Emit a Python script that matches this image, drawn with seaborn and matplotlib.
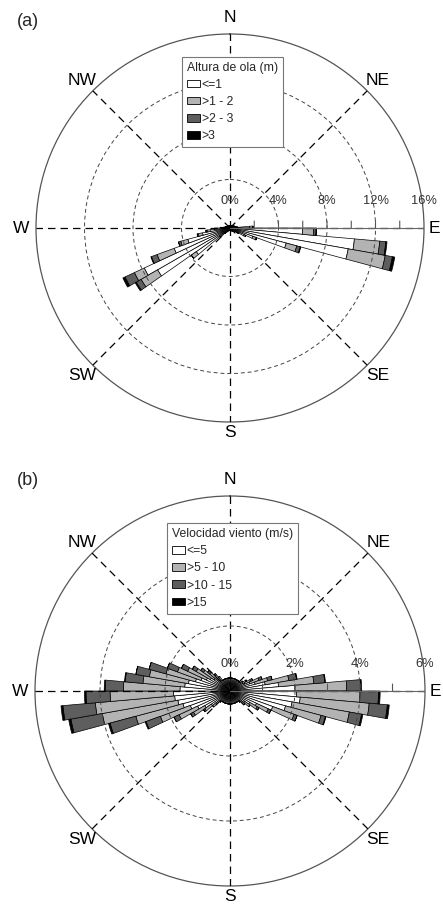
import numpy as np
import matplotlib
matplotlib.use("Agg")
import matplotlib.pyplot as plt
import seaborn as sns
from matplotlib.patches import Patch

sns.set_theme(style="white")
plt.rcParams["font.family"] = ["Liberation Sans", "DejaVu Sans"]

# ---------------- data ----------------
# direction bins (start of each 5 degree sector, clockwise from North)
direction_bins = list(range(0, 360, 5))
compass_angles = [0, 45, 90, 135, 180, 225, 270, 315]
compass_labels = ["N", "NE", "E", "SE", "S", "SW", "W", "NW"]

# (a) wave height rose, % of occurrence per 5 deg sector
wave_labels = ["<=1", ">1 - 2", ">2 - 3", ">3"]
wave_le1 = [.2, .2, .2, .2, .2, .2, .2, .2, .25, .25, .3, .3,
            .35, .4, .45, .5, .6, 1.6, 6.0, 10.3, 9.9, 4.8, 2.0, 1.3,
            .7, .5, .4, .35, .3, .3, .25, .25, .2, .2, .2, .2,
            .2, .2, .2, .2, .25, .25, .3, .4, .6, 1.0, 3.4, 6.9,
            7.8, 4.9, 3.6, 2.3, 1.6, 1.1, .7, .5, .4, .35, .3, .3,
            .25, .25, .2, .2, .2, .2, .2, .2, .2, .2, .2, .2]
wave_1_2 = [0, 0, 0, 0, 0, 0, 0, 0, 0, 0, 0, 0,
            0, 0, 0, 0, 0, .3, .9, 2.1, 3.1, .9, .3, .15,
            .1, 0, 0, 0, 0, 0, 0, 0, 0, 0, 0, 0,
            0, 0, 0, 0, 0, 0, 0, 0, 0, .1, .5, 1.57,
            .9, 1.5, .6, .35, .3, .2, .1, 0, 0, 0, 0, 0,
            0, 0, 0, 0, 0, 0, 0, 0, 0, 0, 0, 0]
wave_2_3 = [0, 0, 0, 0, 0, 0, 0, 0, 0, 0, 0, 0,
            0, 0, 0, 0, 0, 0, .2, .5, .6, .3, .05, 0,
            0, 0, 0, 0, 0, 0, 0, 0, 0, 0, 0, 0,
            0, 0, 0, 0, 0, 0, 0, 0, 0, 0, 0, .46,
            .85, .5, .2, .1, .1, 0, 0, 0, 0, 0, 0, 0,
            0, 0, 0, 0, 0, 0, 0, 0, 0, 0, 0, 0]
wave_gt3 = [0, 0, 0, 0, 0, 0, 0, 0, 0, 0, 0, 0,
            0, 0, 0, 0, 0, 0, .05, .1, .2, .05, 0, 0,
            0, 0, 0, 0, 0, 0, 0, 0, 0, 0, 0, 0,
            0, 0, 0, 0, 0, 0, 0, 0, 0, 0, 0, .1,
            .2, .05, 0, 0, 0, 0, 0, 0, 0, 0, 0, 0,
            0, 0, 0, 0, 0, 0, 0, 0, 0, 0, 0, 0]

# (b) wind speed rose
wind_labels = ["<=5", ">5 - 10", ">10 - 15", ">15"]
wind_le5 = [.4, .4, .4, .4, .4, .4, .4, .4, .4, .4, .4, .45,
            .5, .65, .8, 1.1, 1.5, 2.0, 2.05, 2.17, 1.94, 1.77, 1.4, .9,
            .7, .55, .5, .45, .4, .4, .4, .4, .4, .4, .4, .4,
            .4, .4, .4, .4, .4, .4, .4, .4, .45, .55, .7, .9,
            1.1, 1.3, 1.5, 1.63, 1.71, 1.74, 1.54, 1.4, 1.3, 1.1, .95, .8,
            .7, .6, .5, .45, .4, .4, .4, .4, .4, .4, .4, .4]
wind_5_10 = [0, 0, 0, 0, 0, 0, 0, 0, 0, 0, .08, .12,
             .2, .3, .4, .74, 1.09, 1.59, 1.95, 2.13, 1.79, 1.13, .7, .4,
             .27, .2, .1, 0, 0, 0, 0, 0, 0, 0, 0, 0,
             0, 0, 0, 0, 0, 0, 0, 0, 0, .15, .25, .4,
             .63, .98, 1.5, 2.36, 2.45, 1.95, 1.74, 1.29, 1.22, .94, .77, .64,
             .5, .4, .32, .2, .15, 0, 0, 0, 0, 0, 0, 0]
wind_10_15 = [0, 0, 0, 0, 0, 0, 0, 0, 0, 0, 0, .03,
              .07, .1, .14, .24, .34, .43, .57, .56, .38, .14, .1, .09,
              .06, 0, 0, 0, 0, 0, 0, 0, 0, 0, 0, 0,
              0, 0, 0, 0, 0, 0, 0, 0, 0, 0, .05, .1,
              .17, .47, .82, .98, 1.0, .74, .56, .55, .42, .54, .33, .21,
              .14, .1, .08, .05, 0, 0, 0, 0, 0, 0, 0, 0]
wind_gt15 = [0, 0, 0, 0, 0, 0, 0, 0, 0, 0, 0, 0,
             0, 0, 0, .02, .02, .03, .05, .06, .04, .02, 0, 0,
             0, 0, 0, 0, 0, 0, 0, 0, 0, 0, 0, 0,
             0, 0, 0, 0, 0, 0, 0, 0, 0, 0, 0, 0,
             0, .03, .05, .07, .06, .05, .03, .02, 0, 0, 0, 0,
             0, 0, 0, 0, 0, 0, 0, 0, 0, 0, 0, 0]

wave_rmax, wave_grid, wave_ticks, wave_tlabels = 16, [4, 8, 12], [2, 4, 6, 8, 10, 12, 14], [0, 4, 8, 12, 16]
wind_rmax, wind_grid, wind_ticks, wind_tlabels = 6, [2, 4], [1, 2, 3, 4, 5], [0, 2, 4, 6]

# ---------------- style ----------------
fill_colors = ["white", "#b3b3b3", "#5e5e5e", "black"]
label_radius = [1.085, 1.075, 1.055, 1.075, 1.055, 1.075, 1.075, 1.075]

fig = plt.figure(figsize=(4.43, 9.07), dpi=100)
W, H = 443.0, 907.0


def rose(rect, series, rmax, grid_r, tick_r, tlabel_r, title, labels, leg_xy, tag, tag_xy):
    ax = fig.add_axes(rect, projection="polar")
    ax.set_facecolor("white")
    ax.set_theta_zero_location("N")
    ax.set_theta_direction(-1)
    theta = np.radians(np.array(direction_bins) + 2.5)
    width = np.radians(5)
    bottom = np.zeros(len(direction_bins))
    for vals, c in zip(series, fill_colors):
        v = np.asarray(vals, dtype=float)
        ax.bar(theta, v, width=width, bottom=bottom, color=c, edgecolor="black",
               linewidth=0.5, zorder=1, align="center")
        bottom += v
    ax.set_ylim(0, rmax)
    ax.set_axisbelow(False)
    ax.set_yticks(grid_r)
    ax.set_yticklabels([])
    ax.yaxis.grid(True, linestyle=(0, (4, 3)), color="#444444", linewidth=0.7)
    ax.set_xticks(np.radians(compass_angles))
    ax.set_xticklabels([])
    ax.xaxis.grid(True, linestyle=(0, (6, 4)), color="black", linewidth=0.9)
    ax.tick_params(length=0, pad=0)
    ax.spines["polar"].set_color("#555555")
    ax.spines["polar"].set_linewidth(0.9)
    # radial axis along East
    ax.plot([np.pi / 2, np.pi / 2], [0, rmax], color="#666666", lw=0.8, zorder=3)
    for r in tick_r:
        ax.annotate("", xy=(np.pi / 2, r), xytext=(0, 5), textcoords="offset points",
                    arrowprops=dict(arrowstyle="-", color="#555555", lw=0.8,
                                    shrinkA=0, shrinkB=0), zorder=3)
    for r in tlabel_r:
        ax.annotate(f"{r}%", xy=(np.pi / 2, r), xytext=(0, 19.5), textcoords="offset points",
                    ha="center", va="center", fontsize=9.3, color="#333333", zorder=4)
    for a, lab, f in zip(compass_angles, compass_labels, label_radius):
        ax.text(np.radians(a), rmax * f, lab, ha="center", va="center",
                fontsize=12.5, clip_on=False, color="black")
    handles = [Patch(facecolor=c, edgecolor="black", linewidth=0.6) for c in fill_colors]
    leg = ax.legend(handles, labels, title=title, loc="upper left",
                    bbox_to_anchor=(leg_xy[0] / W, 1 - leg_xy[1] / H),
                    bbox_transform=fig.transFigure, fontsize=8.8, title_fontsize=8.8,
                    frameon=True, fancybox=False, framealpha=1, edgecolor="#777777",
                    handlelength=1.1, handleheight=0.6, handletextpad=0.15,
                    labelspacing=0.42, borderpad=0.4, borderaxespad=0, alignment="left")
    leg.get_frame().set_linewidth(0.8)
    leg.set_zorder(10)
    fig.text(tag_xy[0] / W, 1 - tag_xy[1] / H, tag, fontsize=13, ha="center", va="center")
    return ax


rose([36 / W, 1 - 422 / H, 388 / W, 388 / H],
     [wave_le1, wave_1_2, wave_2_3, wave_gt3], wave_rmax, wave_grid, wave_ticks, wave_tlabels,
     "Altura de ola (m)", wave_labels, (181.7, 56.7), "(a)", (28, 22))
rose([35 / W, 1 - 886 / H, 390 / W, 390 / H],
     [wind_le5, wind_5_10, wind_10_15, wind_gt15], wind_rmax, wind_grid, wind_ticks, wind_tlabels,
     "Velocidad viento (m/s)", wind_labels, (166.7, 523.3), "(b)", (28, 480))

fig.savefig("out.png", dpi=100, facecolor="white")
